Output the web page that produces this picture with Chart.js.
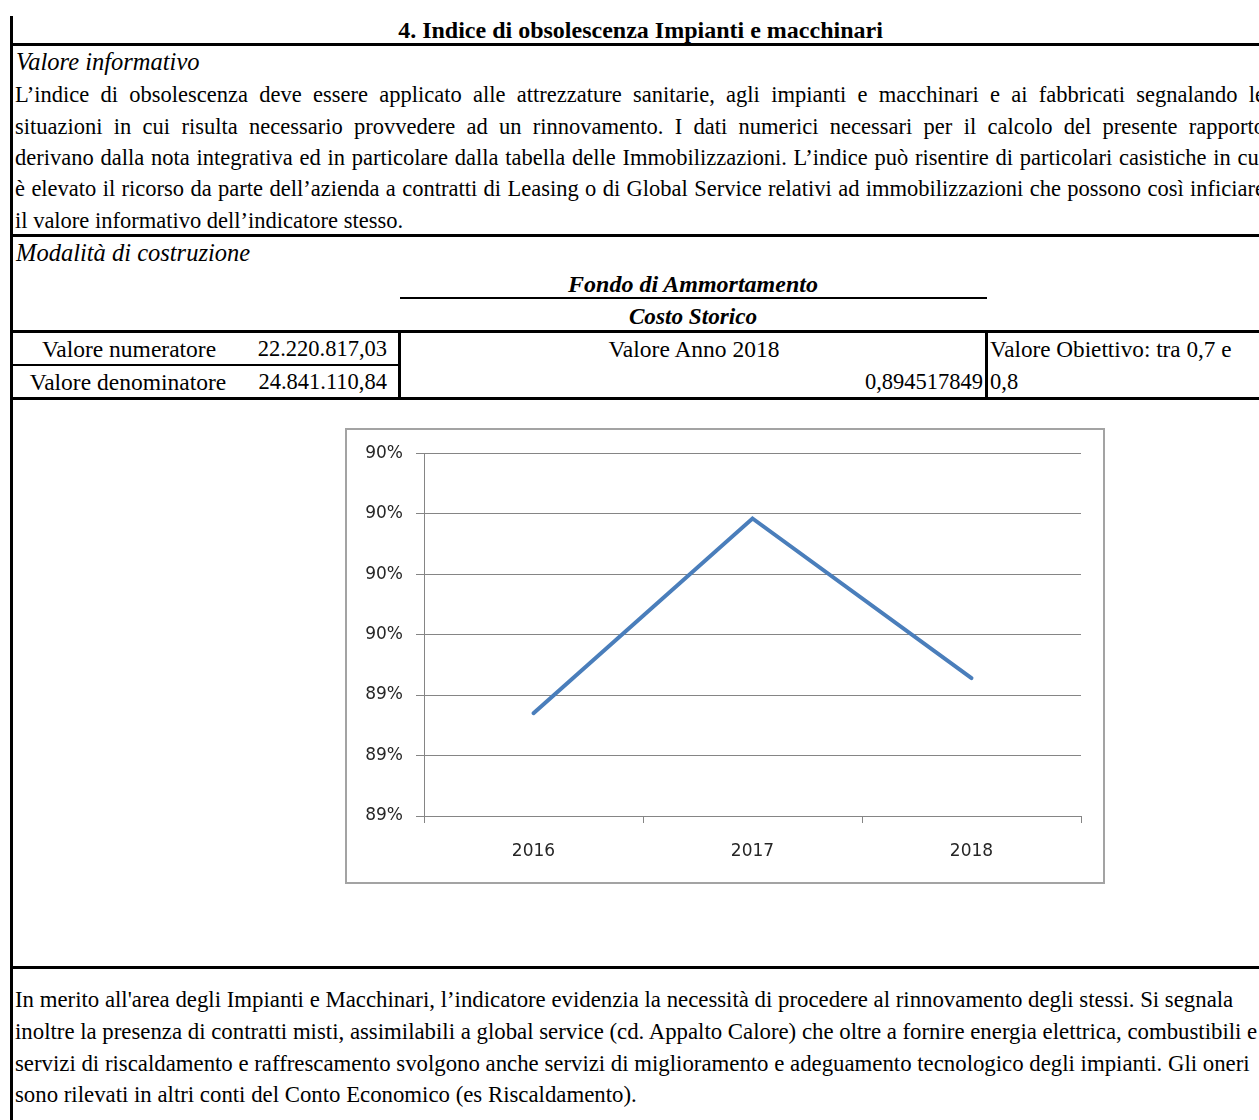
<!DOCTYPE html>
<html>
<head>
<meta charset="utf-8">
<script src="https://cdn.jsdelivr.net/npm/chart.js@4.4.1/dist/chart.umd.min.js"></script>
<style>
  html, body { margin: 0; padding: 0; background: #fff; }
  body { width: 1259px; height: 1120px; overflow: hidden; position: relative;
         font-family: "Liberation Serif", "Times New Roman", serif; font-size: 22.5px; color: #000; }
  .t { position: absolute; line-height: 32px; white-space: nowrap; }
  .rule { position: absolute; background: #000; }
  .just { position: absolute; left: 15px; width: 1250px; line-height: 32px;
          text-align: justify; text-align-last: justify; }
  .it { font-style: italic; font-size: 24.5px; }
  .bi { font-style: italic; font-weight: bold; }
  .cell { font-size: 23.5px; }
  .note { font-size: 22.8px; }
  #chartBox { position: absolute; left: 345px; top: 428px; width: 760px; height: 456px;
              box-sizing: border-box; border: 2px solid #a3a3a3; background: #fff; }
  #chartBox canvas { display: block; }
</style>
</head>
<body>

<!-- page frame -->
<div class="rule" style="left:10px; top:16px; width:3px; height:1110px;"></div>

<div class="t" style="left:12px; width:1257px; top:14px; text-align:center; font-weight:bold; font-size:24px;">4. Indice di obsolescenza Impianti e macchinari</div>
<div class="rule" style="left:10px; top:43px; width:1260px; height:3px;"></div>

<div class="t it" style="left:16px; top:46px;">Valore informativo</div>
<div class="just" style="top:79px;">L’indice di obsolescenza deve essere applicato alle attrezzature sanitarie, agli impianti e macchinari e ai fabbricati segnalando le</div>
<div class="just" style="top:111px;">situazioni in cui risulta necessario provvedere ad un rinnovamento. I dati numerici necessari per il calcolo del presente rapporto</div>
<div class="just" style="top:142px;">derivano dalla nota integrativa ed in particolare dalla tabella delle Immobilizzazioni. L’indice può risentire di particolari casistiche in cui</div>
<div class="just" style="top:173px;">è elevato il ricorso da parte dell’azienda a contratti di Leasing o di Global Service relativi ad immobilizzazioni che possono così inficiare</div>
<div class="t" style="left:15px; top:205px;">il valore informativo dell’indicatore stesso.</div>
<div class="rule" style="left:10px; top:234px; width:1260px; height:3px;"></div>

<div class="t it" style="left:16px; top:237px;">Modalità di costruzione</div>
<div class="t bi" style="left:400px; width:586px; top:268px; text-align:center; font-size:24px;">Fondo di Ammortamento</div>
<div class="rule" style="left:400px; top:297px; width:587px; height:2px;"></div>
<div class="t bi" style="left:400px; width:586px; top:300px; text-align:center; font-size:23.2px;">Costo Storico</div>
<div class="rule" style="left:10px; top:330px; width:1260px; height:3px;"></div>

<!-- table -->
<div class="t cell" style="left:12px; width:234px; top:333px; text-align:center;">Valore numeratore</div>
<div class="t" style="left:250px; width:137px; top:333px; text-align:right;">22.220.817,03</div>
<div class="t cell" style="left:12px; width:232px; top:366px; text-align:center;">Valore denominatore</div>
<div class="t" style="left:250px; width:137px; top:366px; text-align:right;">24.841.110,84</div>
<div class="t cell" style="left:400px; width:588px; top:333px; text-align:center;">Valore Anno 2018</div>
<div class="t" style="left:400px; width:583px; top:366px; text-align:right;">0,894517849</div>
<div class="t cell" style="left:990px; top:333px; font-size:23.2px;">Valore Obiettivo: tra 0,7 e</div>
<div class="t" style="left:990px; top:366px;">0,8</div>
<div class="rule" style="left:10px; top:364px; width:390px; height:2px;"></div>
<div class="rule" style="left:398px; top:331px; width:3px; height:67px;"></div>
<div class="rule" style="left:985px; top:331px; width:3px; height:67px;"></div>
<div class="rule" style="left:10px; top:397px; width:1260px; height:3px;"></div>

<div id="chartBox"><canvas id="chart" width="756" height="452"></canvas></div>

<div class="rule" style="left:10px; top:966px; width:1260px; height:3px;"></div>
<div class="t note" style="left:15px; top:984px;">In merito all'area degli Impianti e Macchinari, l’indicatore evidenzia la necessità di procedere al rinnovamento degli stessi. Si segnala</div>
<div class="t note" style="left:15px; top:1016px;">inoltre la presenza di contratti misti, assimilabili a global service (cd. Appalto Calore) che oltre a fornire energia elettrica, combustibili e</div>
<div class="t note" style="left:15px; top:1048px;">servizi di riscaldamento e raffrescamento svolgono anche servizi di miglioramento e adeguamento tecnologico degli impianti. Gli oneri</div>
<div class="t note" style="left:15px; top:1079px;">sono rilevati in altri conti del Conto Economico (es Riscaldamento).</div>

<script>
// data
var years = ['2016', '2017', '2018'];
var indice = [0.89435, 0.89596, 0.89464];
var yTicks = [0.8935, 0.8940, 0.8945, 0.8950, 0.8955, 0.8960, 0.8965];
var yTickLabels = ['89%', '89%', '89%', '90%', '90%', '90%', '90%'];

var gridColor = '#858585';
var labelFont = { family: 'DejaVu Sans', size: 17 };

var ctx = document.getElementById('chart').getContext('2d');
new Chart(ctx, {
    type: 'line',
    data: {
        labels: years,
        datasets: [{
            data: indice,
            borderColor: '#4A7EBB',
            borderWidth: 4,
            borderCapStyle: 'round',
            borderJoinStyle: 'miter',
            pointRadius: 0,
            tension: 0,
            fill: false
        }]
    },
    options: {
        responsive: false,
        animation: false,
        layout: { padding: { top: 22, right: 22, left: 0, bottom: 0 } },
        plugins: { legend: { display: false }, tooltip: { enabled: false } },
        scales: {
            x: {
                offset: true,
                grid: { display: true, drawOnChartArea: false, drawTicks: true, tickLength: 7,
                        offset: true, color: gridColor, lineWidth: 1 },
                border: { display: true, color: gridColor, width: 1 },
                ticks: { color: '#262626', font: labelFont, padding: 18 },
                afterFit: function (scale) { scale.height = 66; }
            },
            y: {
                min: yTicks[0],
                max: yTicks[yTicks.length - 1],
                afterBuildTicks: function (scale) {
                    scale.ticks = yTicks.map(function (v) { return { value: v }; });
                },
                grid: { color: gridColor, lineWidth: 1, tickLength: 8, drawTicks: true },
                border: { display: true, color: gridColor, width: 1 },
                ticks: {
                    color: '#262626', font: labelFont, padding: 13,
                    callback: function (value, index) { return yTickLabels[index]; }
                },
                afterFit: function (scale) { scale.width = 77; }
            }
        }
    }
});
</script>
</body>
</html>
